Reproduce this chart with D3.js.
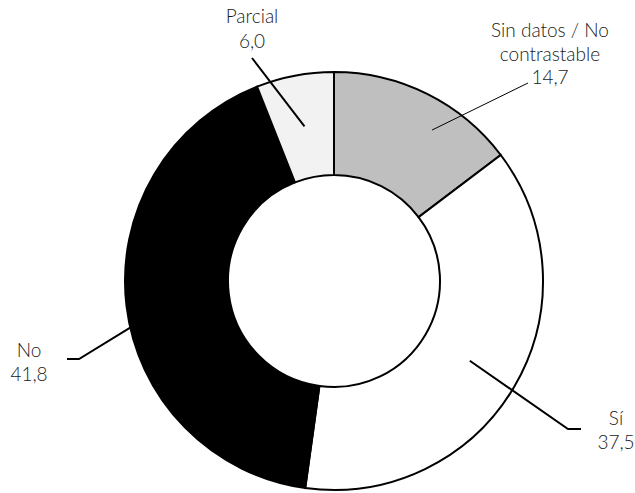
<!DOCTYPE html>
<html>
<head>
<meta charset="utf-8">
<script src="https://cdn.jsdelivr.net/npm/d3@7"></script>
<style>
  html, body { margin: 0; padding: 0; background: #fff; }
  svg { display: block; }
  text { font-family: Lato, "Open Sans", sans-serif; font-size: 19px; font-weight: 300; fill: #1a1a1a; }
</style>
</head>
<body>
<svg id="chart" width="635" height="493"></svg>
<script>
// Distribution of responses (percent), clockwise from 12 o'clock
const categories = ["Sin datos / No contrastable", "Sí", "No", "Parcial"];
const values = [14.7, 37.5, 41.8, 6.0];
const labelLines = [["Sin datos / No", "contrastable"], ["Sí"], ["No"], ["Parcial"]];
const fills = ["#bfbfbf", "#ffffff", "#000000", "#f2f2f2"];

const fmt = v => d3.format(".1f")(v).replace(".", ",");

const width = 635, height = 493;
const cx = 334, cy = 281;
const outerR = 209, innerR = 106;

const svg = d3.select("#chart");
const g = svg.append("g").attr("transform", `translate(${cx},${cy})`);

const data = categories.map((c, i) => ({ name: c, value: values[i], lines: labelLines[i], fill: fills[i] }));

const pie = d3.pie().value(d => d.value).sort(null);
const arc = d3.arc().innerRadius(innerR).outerRadius(outerR);
const arcs = pie(data);

g.selectAll("path.slice")
  .data(arcs)
  .join("path")
  .attr("class", "slice")
  .attr("d", arc)
  .attr("fill", d => d.data.fill)
  .attr("stroke", "#000")
  .attr("stroke-width", 2)
  .attr("stroke-linejoin", "miter");

// Label placement: text anchor (x centre, first baseline) and leader route
const rad = deg => deg * Math.PI / 180;
const polar = (deg, r) => [cx + r * Math.sin(rad(deg)), cy - r * Math.cos(rad(deg))];
const centroidAbs = a => { const c = arc.centroid(a); return [cx + c[0], cy + c[1]]; };

const layout = [
  { tx: 550, ty: 37, lh: 23.5, width: 1,
    leader: a => [[528, 83], polar(33, 180)] },
  { tx: 616, ty: 425, lh: 24, width: 2,
    leader: a => [[581, 429], [568, 429], centroidAbs(a)] },
  { tx: 29, ty: 357, lh: 24, width: 2,
    leader: a => [[67, 359], [79, 359], polar(258, 200)] },
  { tx: 252, ty: 23, lh: 25, width: 2,
    leader: a => [[252, 58], centroidAbs(a)] }
];

const line = d3.line();

arcs.forEach((a, i) => {
  const L = layout[i];
  svg.append("path")
    .attr("d", line(L.leader(a)))
    .attr("fill", "none")
    .attr("stroke", "#000")
    .attr("stroke-width", L.width);

  const t = svg.append("text").attr("text-anchor", "middle");
  const rows = a.data.lines.concat([fmt(a.data.value)]);
  rows.forEach((s, k) => {
    t.append("tspan").attr("x", L.tx).attr("y", L.ty + k * L.lh).text(s);
  });
});
</script>
</body>
</html>
